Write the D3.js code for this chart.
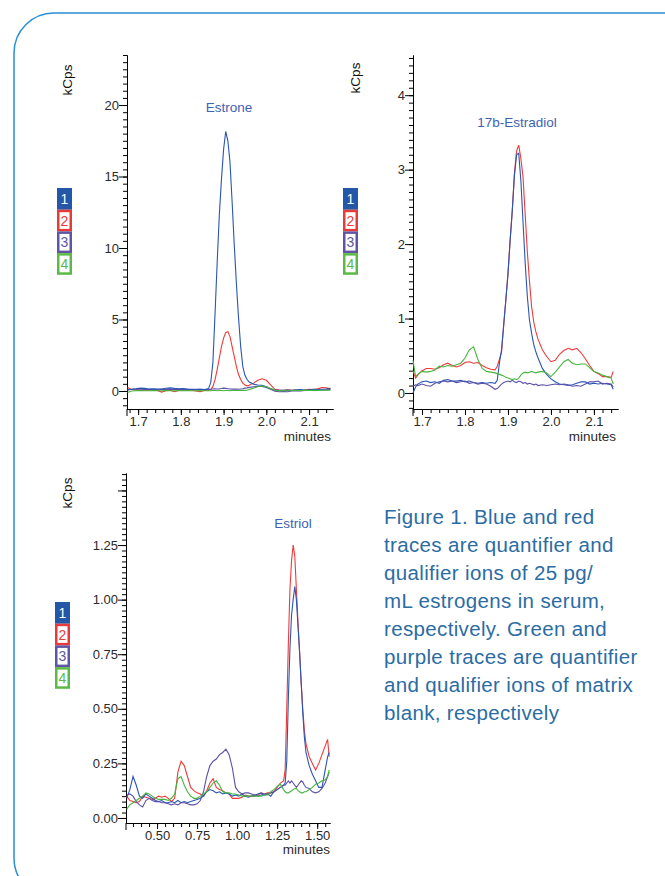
<!DOCTYPE html>
<html>
<head>
<meta charset="utf-8">
<script src="https://cdn.jsdelivr.net/npm/d3@7"></script>
<style>
body { margin: 0; background: #fff; }
svg text { font-family: "Liberation Sans", Arial, sans-serif; }
</style>
</head>
<body>
<script>
var width = 665,
    height = 876;

// ---- Estrone ----
var estroneTime = [1.675, 1.685, 1.695, 1.705, 1.715, 1.725, 1.735, 1.745, 1.755, 1.765, 1.775, 1.785, 1.795, 1.805, 1.815, 1.825, 1.835, 1.845, 1.855, 1.865,
  1.87, 1.875, 1.88, 1.885, 1.89, 1.895, 1.90, 1.905, 1.91, 1.915, 1.92, 1.925, 1.93, 1.935, 1.94, 1.945, 1.95, 1.955, 1.96,
  1.97, 1.98, 1.99, 2.00, 2.01, 2.02, 2.03, 2.04, 2.05, 2.06, 2.07, 2.08, 2.09, 2.10, 2.11, 2.12, 2.13, 2.14, 2.15];
var estroneBlue = [0.10, 0.12, 0.15, 0.20, 0.18, 0.14, 0.15, 0.13, 0.14, 0.19, 0.22, 0.18, 0.16, 0.17, 0.14, 0.12, 0.10, 0.11, 0.10, 0.18,
  0.6, 2.0, 5.4, 9.0, 12.3, 14.8, 16.9, 18.15, 17.5, 16.0, 13.2, 10.2, 7.5, 5.1, 3.1, 1.7, 1.1, 0.8, 0.62,
  0.48, 0.42, 0.40, 0.30, 0.15, 0.06, 0.05, 0.04, 0.06, 0.05, 0.08, 0.10, 0.07, 0.08, 0.12, 0.10, 0.12, 0.14, 0.18];
var estroneRed = [0.25, 0.10, 0.08, 0.06, 0.05, 0.08, 0.06, 0.04, -0.08, 0.02, 0.05, -0.05, 0.04, 0.06, 0.08, 0.05, 0.0, -0.05, 0.03, 0.05,
  0.10, 0.3, 0.8, 1.5, 2.3, 3.1, 3.7, 4.1, 4.15, 3.8, 3.1, 2.4, 1.7, 1.15, 0.80, 0.55, 0.42, 0.36, 0.40,
  0.55, 0.75, 0.85, 0.75, 0.42, 0.12, 0.06, 0.05, 0.08, 0.04, 0.06, 0.03, 0.07, 0.12, 0.10, 0.15, 0.24, 0.22, 0.15];
var estronePurple = [0.05, 0.12, 0.14, 0.12, 0.10, 0.11, 0.12, 0.10, 0.12, 0.11, 0.13, 0.10, 0.12, 0.11, 0.12, 0.10, 0.11, 0.12, 0.10, 0.11,
  0.12, 0.14, 0.15, 0.14, 0.15, 0.17, 0.20, 0.18, 0.16, 0.14, 0.13, 0.14, 0.13, 0.12, 0.14, 0.16, 0.20, 0.22, 0.25,
  0.30, 0.33, 0.32, 0.25, 0.12, -0.02, -0.05, -0.04, -0.05, 0.0, 0.02, 0.0, 0.03, 0.05, 0.08, 0.06, 0.07, 0.08, 0.10];
var estroneGreen = [-0.10, 0.0, 0.02, 0.03, 0.02, 0.02, 0.03, 0.02, 0.02, 0.03, 0.02, 0.02, 0.03, 0.02, 0.03, 0.02, 0.02, 0.03, 0.02, 0.02,
  0.02, 0.03, 0.03, 0.02, 0.03, 0.03, 0.02, 0.03, 0.03, 0.02, 0.03, 0.03, 0.04, 0.03, 0.04, 0.04, 0.04, 0.05, 0.10,
  0.20, 0.30, 0.35, 0.30, 0.18, 0.05, 0.02, 0.03, 0.02, 0.03, 0.04, 0.03, 0.04, 0.04, 0.05, 0.04, 0.05, 0.05, 0.05];

// ---- 17b-Estradiol ----
var estradiolTime = [1.679, 1.685, 1.69, 1.70, 1.71, 1.72, 1.73, 1.74, 1.75, 1.76, 1.77, 1.78, 1.79, 1.80, 1.81, 1.82, 1.83, 1.84, 1.85, 1.86,
  1.87, 1.875, 1.88, 1.885, 1.89, 1.895, 1.90, 1.905, 1.91, 1.915, 1.92, 1.925, 1.93, 1.935, 1.94, 1.945, 1.95, 1.955, 1.96, 1.965,
  1.97, 1.98, 1.99, 2.00, 2.01, 2.02, 2.03, 2.04, 2.05, 2.06, 2.07, 2.08, 2.09, 2.10, 2.11, 2.12, 2.13, 2.14, 2.145];
var estradiolBlue = [0.00, 0.08, 0.12, 0.15, 0.16, 0.14, 0.15, 0.13, 0.17, 0.18, 0.16, 0.16, 0.17, 0.15, 0.16, 0.14, 0.13, 0.14, 0.13, 0.14,
  0.13, 0.17, 0.40, 0.58, 0.92, 1.25, 1.60, 2.05, 2.45, 2.92, 3.20, 3.22, 2.85, 2.30, 1.75, 1.30, 0.98, 0.80, 0.65, 0.55,
  0.47, 0.33, 0.25, 0.19, 0.15, 0.12, 0.11, 0.10, 0.11, 0.13, 0.15, 0.15, 0.12, 0.13, 0.12, 0.13, 0.12, 0.11, 0.05];
var estradiolRed = [0.30, 0.20, 0.24, 0.30, 0.33, 0.33, 0.32, 0.34, 0.38, 0.40, 0.37, 0.35, 0.37, 0.41, 0.42, 0.40, 0.41, 0.37, 0.34, 0.32,
  0.31, 0.36, 0.45, 0.55, 0.90, 1.25, 1.60, 2.05, 2.45, 2.95, 3.25, 3.33, 3.15, 2.90, 2.40, 1.90, 1.50, 1.16, 0.95, 0.82,
  0.72, 0.58, 0.49, 0.42, 0.44, 0.52, 0.57, 0.60, 0.58, 0.60, 0.54, 0.46, 0.37, 0.29, 0.26, 0.22, 0.22, 0.21, 0.29];
var estradiolPurple = [0.09, 0.11, 0.10, 0.12, 0.10, 0.09, 0.13, 0.15, 0.16, 0.15, 0.16, 0.14, 0.15, 0.16, 0.13, 0.14, 0.12, 0.13, 0.12, 0.09,
  0.05, 0.06, 0.09, 0.12, 0.14, 0.15, 0.16, 0.15, 0.17, 0.15, 0.14, 0.16, 0.15, 0.13, 0.14, 0.12, 0.13, 0.12, 0.11, 0.12,
  0.10, 0.11, 0.10, 0.11, 0.12, 0.11, 0.12, 0.11, 0.09, 0.10, 0.09, 0.12, 0.15, 0.15, 0.16, 0.12, 0.13, 0.12, 0.08];
var estradiolGreen = [0.44, 0.22, 0.25, 0.29, 0.28, 0.29, 0.31, 0.36, 0.35, 0.37, 0.36, 0.38, 0.40, 0.47, 0.58, 0.62, 0.45, 0.33, 0.29, 0.28,
  0.27, 0.26, 0.25, 0.24, 0.23, 0.21, 0.20, 0.19, 0.18, 0.19, 0.18, 0.20, 0.24, 0.27, 0.28, 0.27, 0.28, 0.29, 0.28, 0.27,
  0.28, 0.29, 0.27, 0.22, 0.28, 0.35, 0.42, 0.45, 0.40, 0.38, 0.39, 0.39, 0.34, 0.29, 0.27, 0.24, 0.22, 0.20, 0.12];

// ---- Estriol ----
var estriolTime = [0.31, 0.33, 0.35, 0.37, 0.39, 0.41, 0.43, 0.45, 0.47, 0.49, 0.51, 0.53, 0.55, 0.57, 0.59, 0.61, 0.63, 0.65, 0.67, 0.69,
  0.71, 0.73, 0.75, 0.77, 0.79, 0.81, 0.83, 0.85, 0.87, 0.89, 0.91, 0.93, 0.95, 0.97, 0.99, 1.01, 1.03, 1.05, 1.07, 1.09,
  1.11, 1.13, 1.15, 1.17, 1.19, 1.21, 1.23, 1.25, 1.27, 1.29, 1.30, 1.31, 1.32, 1.33, 1.34, 1.35, 1.36, 1.37, 1.38, 1.39,
  1.40, 1.41, 1.42, 1.43, 1.45, 1.47, 1.49, 1.51, 1.53, 1.55, 1.565, 1.575];
var estriolBlue = [0.09, 0.13, 0.19, 0.15, 0.10, 0.09, 0.11, 0.10, 0.09, 0.08, 0.075, 0.08, 0.07, 0.07, 0.075, 0.07, 0.08, 0.07, 0.075, 0.07,
  0.075, 0.08, 0.085, 0.09, 0.10, 0.12, 0.13, 0.125, 0.115, 0.12, 0.11, 0.115, 0.11, 0.10, 0.105, 0.10, 0.11, 0.10, 0.095, 0.10,
  0.105, 0.11, 0.115, 0.105, 0.11, 0.10, 0.12, 0.13, 0.14, 0.15, 0.16, 0.26, 0.55, 0.78, 0.93, 1.00, 1.06, 1.00, 0.88, 0.76,
  0.62, 0.48, 0.37, 0.30, 0.24, 0.20, 0.17, 0.14, 0.14, 0.22, 0.28, 0.30];
var estriolRed = [0.10, 0.08, 0.075, 0.07, 0.075, 0.10, 0.095, 0.09, 0.085, 0.09, 0.10, 0.095, 0.10, 0.09, 0.075, 0.09, 0.21, 0.26, 0.24, 0.19,
  0.14, 0.125, 0.115, 0.11, 0.10, 0.125, 0.16, 0.18, 0.14, 0.13, 0.125, 0.115, 0.11, 0.09, 0.09, 0.09, 0.095, 0.105, 0.10, 0.10,
  0.10, 0.105, 0.115, 0.11, 0.115, 0.115, 0.12, 0.14, 0.16, 0.17, 0.22, 0.50, 0.80, 1.05, 1.18, 1.25, 1.20, 1.05, 0.90, 0.76,
  0.62, 0.50, 0.40, 0.34, 0.28, 0.25, 0.22, 0.25, 0.29, 0.33, 0.36, 0.28];
var estriolPurple = [0.105, 0.11, 0.10, 0.075, 0.06, 0.05, 0.08, 0.09, 0.08, 0.075, 0.075, 0.07, 0.07, 0.065, 0.06, 0.065, 0.06, 0.07, 0.07, 0.065,
  0.06, 0.06, 0.065, 0.08, 0.12, 0.19, 0.24, 0.26, 0.27, 0.29, 0.30, 0.315, 0.29, 0.23, 0.14, 0.12, 0.11, 0.115, 0.115, 0.11,
  0.105, 0.10, 0.105, 0.11, 0.11, 0.115, 0.12, 0.13, 0.14, 0.15, 0.15, 0.16, 0.17, 0.16, 0.17, 0.16, 0.15, 0.14, 0.15, 0.16,
  0.17, 0.165, 0.15, 0.14, 0.135, 0.12, 0.115, 0.12, 0.135, 0.16, 0.19, 0.21];
var estriolGreen = [0.04, 0.06, 0.07, 0.08, 0.09, 0.10, 0.115, 0.11, 0.10, 0.09, 0.085, 0.085, 0.085, 0.08, 0.09, 0.11, 0.18, 0.19, 0.15, 0.12,
  0.10, 0.09, 0.09, 0.10, 0.11, 0.12, 0.14, 0.16, 0.17, 0.15, 0.12, 0.115, 0.115, 0.11, 0.11, 0.105, 0.10, 0.10, 0.10, 0.10,
  0.10, 0.10, 0.10, 0.105, 0.105, 0.12, 0.13, 0.145, 0.155, 0.13, 0.12, 0.115, 0.115, 0.12, 0.125, 0.13, 0.135, 0.135, 0.125, 0.12,
  0.115, 0.115, 0.12, 0.12, 0.13, 0.14, 0.155, 0.16, 0.17, 0.175, 0.19, 0.22];

// tick labels
var estroneXTicks = [1.7, 1.8, 1.9, 2.0, 2.1];
var estroneYTicks = [0, 5, 10, 15, 20];
var estradiolXTicks = [1.7, 1.8, 1.9, 2.0, 2.1];
var estradiolYTicks = [0, 1, 2, 3, 4];
var estriolXTicks = [0.50, 0.75, 1.00, 1.25, 1.50];
var estriolYTicks = [0.00, 0.25, 0.50, 0.75, 1.00, 1.25];

// series order everywhere: blue, red, purple, green
var legendLabels = ["1", "2", "3", "4"];
var legendColors = ["#2357a8", "#e8393b", "#5e55a4", "#5cb946"];
var traceColors = ["#2a56b2", "#ef3a3a", "#5b50a9", "#46b53f"];

var captionLines = [
  "Figure 1. Blue and red",
  "traces are quantifier and",
  "qualifier ions of 25 pg/",
  "mL estrogens in serum,",
  "respectively. Green and",
  "purple traces are quantifier",
  "and qualifier ions of matrix",
  "blank, respectively"
];

var svg = d3.select("body").append("svg")
    .attr("width", width)
    .attr("height", height);

// rounded frame
svg.append("rect")
    .attr("x", 14)
    .attr("y", 13)
    .attr("width", 720)
    .attr("height", 885)
    .attr("rx", 40)
    .attr("ry", 40)
    .attr("fill", "none")
    .attr("stroke", "#2a8fd6")
    .attr("stroke-width", 1.5);

var panels = [
  {title: "Estrone", time: estroneTime, series: [estroneBlue, estroneRed, estronePurple, estroneGreen], order: [1, 2, 0, 3],
   xDomain: [1.674, 2.156], xRange: [127, 333], yDomain: [-1.26, 23.5], yRange: [409, 55],
   xTicks: estroneXTicks, xMinor: 0.02, xFmt: ".1f", yTicks: estroneYTicks, yMinor: 0.5, yFmt: "d", yLabelMax: 20,
   titleX: 229, titleY: 112, kX: 72, kY: 80, legX: 57, legY: 188, minX: 331, minY: 441},
  {title: "17b-Estradiol", time: estradiolTime, series: [estradiolBlue, estradiolRed, estradiolPurple, estradiolGreen], order: [1, 0, 2, 3],
   xDomain: [1.679, 2.156], xRange: [413, 618], yDomain: [-0.215, 4.54], yRange: [409, 55],
   xTicks: estradiolXTicks, xMinor: 0.02, xFmt: ".1f", yTicks: estradiolYTicks, yMinor: 0.1, yFmt: "d", yLabelMax: 4,
   titleX: 517, titleY: 127, kX: 360, kY: 78, legX: 343, legY: 188, minX: 616, minY: 441},
  {title: "Estriol", time: estriolTime, series: [estriolBlue, estriolRed, estriolPurple, estriolGreen], order: [1, 0, 2, 3],
   xDomain: [0.306, 1.58], xRange: [126, 330], yDomain: [-0.023, 1.58], yRange: [823, 473],
   xTicks: estriolXTicks, xMinor: 0.05, xFmt: ".2f", yTicks: estriolYTicks.concat([1.5]), yMinor: 0.025, yFmt: ".2f", yLabelMax: 1.25,
   titleX: 293, titleY: 528, kX: 72, kY: 493, legX: 55, legY: 602, minX: 330, minY: 854}
];

function minorTicks(domain, step)
{
  var start = Math.ceil(domain[0] / step - 1e-6);
  var end = Math.floor(domain[1] / step + 1e-6);
  return d3.range(start, end + 1).map(function(i) { return +(i * step).toFixed(4); });
}

function drawPanel(p)
{
  var x = d3.scaleLinear().domain(p.xDomain).range(p.xRange);
  var y = d3.scaleLinear().domain(p.yDomain).range(p.yRange);
  var g = svg.append("g");
  var x0 = p.xRange[0], y0 = p.yRange[0];

  // y axis minor + major ticks
  g.append("g")
    .attr("transform", "translate(" + x0 + ",0)")
    .call(d3.axisLeft(y).tickValues(minorTicks(p.yDomain, p.yMinor)).tickSize(4).tickSizeOuter(0).tickFormat(""));

  g.append("g")
    .attr("transform", "translate(" + x0 + ",0)")
    .call(d3.axisLeft(y).tickValues(p.yTicks).tickSize(8).tickSizeOuter(0).tickPadding(0)
      .tickFormat(function(d) { return d > p.yLabelMax ? "" : d3.format(p.yFmt)(d); }));

  // x axis
  g.append("g")
    .attr("transform", "translate(0," + y0 + ")")
    .call(d3.axisBottom(x).tickValues(minorTicks(p.xDomain, p.xMinor)).tickSize(4).tickSizeOuter(0).tickFormat(""));

  g.append("g")
    .attr("transform", "translate(0," + y0 + ")")
    .call(d3.axisBottom(x).tickValues(p.xTicks).tickSize(6).tickSizeOuter(0).tickPadding(2)
      .tickFormat(d3.format(p.xFmt)));

  g.append("line")
    .attr("x1", x0).attr("x2", x0)
    .attr("y1", y0).attr("y2", y0 + 7)
    .attr("stroke", "#000");

  g.selectAll(".domain").attr("stroke", "#000");
  g.selectAll(".tick line").attr("stroke", "#000");
  g.selectAll(".tick text")
    .attr("font-size", 13)
    .attr("font-family", "Liberation Sans, Arial, sans-serif")
    .attr("fill", "#2a2a2a");

  // traces
  var line = d3.line()
    .x(function(d, i) { return x(p.time[i]); })
    .y(function(d) { return y(d); });

  for(var k = 0; k < p.order.length; k++)
  {
    var idx = p.order[k];
    g.append("path")
      .datum(p.series[idx])
      .attr("d", line)
      .attr("fill", "none")
      .attr("stroke", traceColors[idx])
      .attr("stroke-width", 1.1);
  }

  g.append("text")
    .attr("x", p.titleX)
    .attr("y", p.titleY)
    .attr("text-anchor", "middle")
    .attr("font-size", 13.5)
    .attr("fill", "#4062b4")
    .text(p.title);

  g.append("text")
    .attr("transform", "translate(" + p.kX + "," + p.kY + ") rotate(-90)")
    .attr("text-anchor", "middle")
    .attr("font-size", 13.5)
    .attr("fill", "#111")
    .text("kCps");

  g.append("text")
    .attr("x", p.minX)
    .attr("y", p.minY)
    .attr("text-anchor", "end")
    .attr("font-size", 13.5)
    .attr("fill", "#2a2a2a")
    .text("minutes");

  // legend boxes
  var leg = g.append("g").attr("transform", "translate(" + p.legX + "," + p.legY + ")");
  var boxH = 21.7, boxW = 15;
  leg.selectAll("g")
    .data(legendLabels)
    .enter().append("g")
      .attr("transform", function(d, i) { return "translate(0," + (i * boxH) + ")"; })
      .each(function(d, i)
        {
          var b = d3.select(this);
          b.append("rect").attr("width", boxW).attr("height", boxH).attr("fill", legendColors[i]);
          if(i > 0)
            b.append("rect").attr("x", 2.5).attr("y", 2.5).attr("width", boxW - 5).attr("height", boxH - 5).attr("fill", "#fff");
          b.append("text")
            .attr("x", boxW / 2)
            .attr("y", boxH / 2 + 5)
            .attr("text-anchor", "middle")
            .attr("font-size", 14)
            .attr("fill", i == 0 ? "#fff" : legendColors[i])
            .text(d);
        });
}

panels.forEach(drawPanel);

// caption
svg.append("g").selectAll("text")
  .data(captionLines)
  .enter().append("text")
    .attr("x", 384)
    .attr("y", function(d, i) { return 524 + i * 28; })
    .attr("font-family", "Roboto, sans-serif")
    .attr("font-weight", 300)
    .attr("font-size", 20.5)
    .attr("letter-spacing", 0.35)
    .attr("fill", "#2b6ca3")
    .text(function(d) { return d; });
</script>
</body>
</html>
